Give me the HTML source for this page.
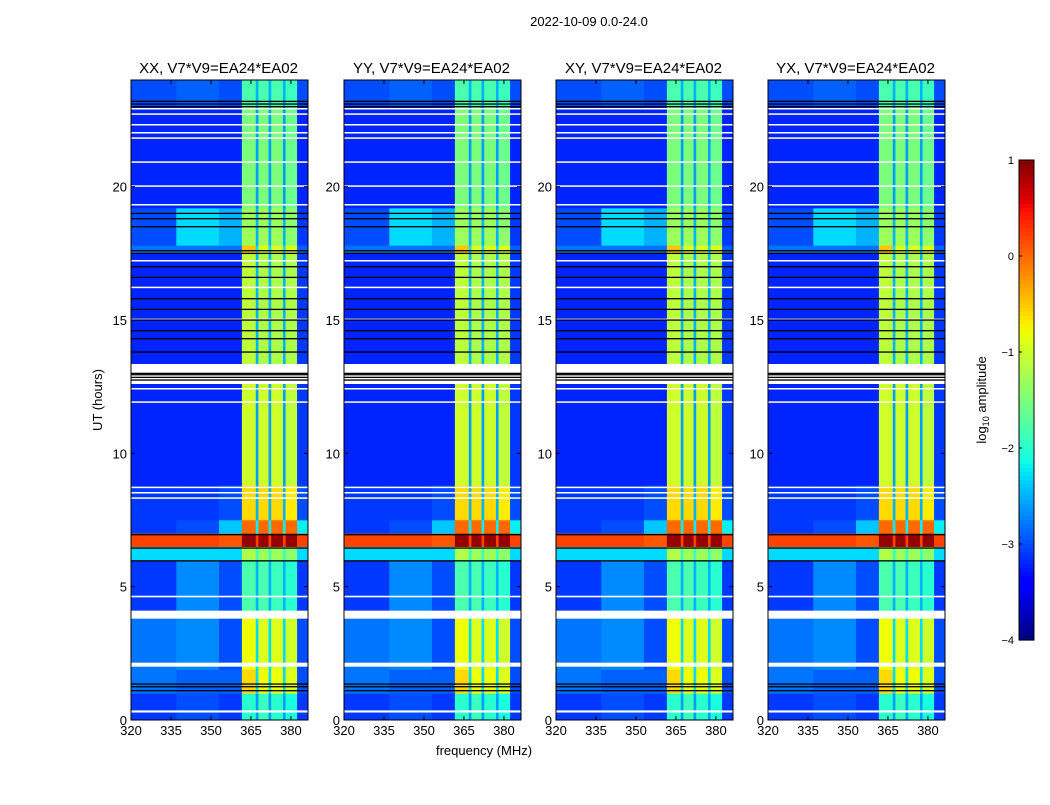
<!DOCTYPE html>
<html><head><meta charset="utf-8"><style>
body{margin:0;background:#fff;width:1050px;height:800px;overflow:hidden}
svg{font-family:"Liberation Sans",sans-serif}
</style></head><body>
<svg id="fig" width="1050" height="800" xmlns="http://www.w3.org/2000/svg">
<text x="589" y="26" font-size="13" text-anchor="middle">2022-10-09 0.0-24.0</text>
<text x="0" y="0" font-size="13" text-anchor="middle" transform="translate(102,400) rotate(-90)">UT (hours)</text>
<text x="484" y="755" font-size="13" text-anchor="middle">frequency (MHz)</text>
<text x="0" y="0" font-size="13" text-anchor="middle" transform="translate(986,400) rotate(-90)">log<tspan font-size="9" dy="3">10</tspan><tspan dy="-3"> amplitude</tspan></text>
<g id="panels"></g>
<g id="cbar"></g>
</svg>
<script>
const panelTitles=["XX, V7*V9=EA24*EA02","YY, V7*V9=EA24*EA02","XY, V7*V9=EA24*EA02","YX, V7*V9=EA24*EA02"];
const freqEdges=[320,337,353,361.6,366.8,367.8,371.6,372.6,377,378,382.3,386.4];
const rowStart=[0,1.0,1.9,4.1,6.0,6.5,7.0,7.5,8.8,13.3,17.5,17.8,19.2,23.0];
const rowEnd=[1.0,1.9,3.8,6.0,6.5,7.0,7.5,8.8,12.6,17.5,17.8,19.2,23.0,24.0];
const rowValues=[
[-3.1,-3.0,-3.1,-2.0,-2.6,-1.9,-2.6,-2.0,-2.6,-2.1,-3.1],
[-2.8,-2.9,-2.9,-0.6,-2.3,-0.8,-2.3,-0.8,-2.3,-0.9,-3.0],
[-2.8,-2.7,-3.0,-0.8,-2.3,-0.9,-2.3,-0.9,-2.3,-1.0,-3.0],
[-3.1,-2.7,-3.0,-1.8,-2.5,-1.8,-2.5,-1.9,-2.5,-2.0,-3.1],
[-2.3,-2.3,-2.3,-1.2,-1.9,-1.3,-1.9,-1.3,-1.9,-1.4,-2.3],
[0.2,0.2,0.1,0.9,0.2,0.9,0.2,0.9,0.2,0.9,0.2],
[-3.1,-3.0,-2.4,0.0,-2.2,0.0,-2.2,0.0,-2.2,0.0,-2.2],
[-3.1,-3.1,-3.0,-0.6,-2.5,-0.6,-2.5,-0.6,-2.5,-0.7,-3.0],
[-3.2,-3.2,-3.2,-1.0,-2.6,-1.0,-2.6,-1.0,-2.6,-1.1,-3.1],
[-3.2,-3.2,-3.2,-1.1,-2.5,-1.2,-2.5,-1.2,-2.5,-1.2,-3.1],
[-2.8,-2.8,-2.8,-0.5,-2.3,-0.9,-2.3,-0.9,-2.3,-0.9,-2.9],
[-3.0,-2.3,-2.5,-1.3,-2.5,-1.3,-2.5,-1.3,-2.5,-1.4,-3.1],
[-3.2,-3.2,-3.2,-1.5,-2.6,-1.5,-2.6,-1.5,-2.6,-1.6,-3.2],
[-3.0,-2.9,-3.0,-1.8,-2.5,-1.8,-2.5,-1.8,-2.5,-1.9,-3.0]];
const whiteStart=[0.28,2.0,3.88,4.6,8.3,8.5,8.7,11.9,12.4,12.6,13.1,15.0,16.2,17.2,19.3,20.0,20.9,21.8,22.0,22.3,22.7,22.9];
const whiteEnd=[0.36,2.15,4.1,4.66,8.35,8.55,8.75,11.95,12.45,12.7,13.35,15.05,16.25,17.25,19.35,20.05,20.95,21.85,22.05,22.35,22.75,22.95];
const blackLines=[1.1,1.25,1.35,5.97,6.45,6.95,12.75,12.85,12.95,13.0,13.8,14.3,14.6,15.0,15.4,15.8,16.6,17.0,17.5,17.6,18.5,18.8,19.0,23.0,23.1,23.2];
const xTicks=[320,335,350,365,380];
const yTicks=[0,5,10,15,20];
const cbTicks=[1,0,-1,-2,-3,-4];
const cbLabels=["1","0","\u22121","\u22122","\u22123","\u22124"];

const NS="http://www.w3.org/2000/svg";
const panelLefts=[131,344,556,768], PW=177, PT=80, PB=720;
const fmin=320,fmax=386.4,tmin=0,tmax=24;
function interp(pts,t){for(let i=1;i<pts.length;i++){if(t<=pts[i][0]){const a=pts[i-1],b=pts[i];return a[1]+(b[1]-a[1])*(t-a[0])/(b[0]-a[0]);}}return pts[pts.length-1][1];}
const RP=[[0,0],[0.35,0],[0.66,1],[0.89,1],[1,0.5]];
const GP=[[0,0],[0.125,0],[0.375,1],[0.64,1],[0.91,0],[1,0]];
const BP=[[0,0.5],[0.11,1],[0.34,1],[0.65,0],[1,0]];
function jet(v){let t=(v+4)/5;t=Math.max(0,Math.min(1,t));
 const c=x=>Math.round(255*x);
 return `rgb(${c(interp(RP,t))},${c(interp(GP,t))},${c(interp(BP,t))})`;}
function mk(tag,attrs,parent){const e=document.createElementNS(NS,tag);for(const k in attrs)e.setAttribute(k,attrs[k]);parent.appendChild(e);return e;}
const yS=h=>PB-(h-tmin)/(tmax-tmin)*(PB-PT);
const panels=document.getElementById('panels');
panelLefts.forEach((L,p)=>{
 const xS=f=>L+(f-fmin)/(fmax-fmin)*PW;
 const g=mk('g',{},panels);
 
 
 rowStart.forEach((s,r)=>{
  for(let c=0;c<freqEdges.length-1;c++){
   const x0=xS(freqEdges[c]),x1=xS(freqEdges[c+1]),y0=yS(rowEnd[r]),y1=yS(s);
   const el=mk('rect',{x:x0,y:y0,width:x1-x0+0.3,height:y1-y0+0.3,fill:jet(rowValues[r][c])},g);
   
   
  }
 });
 whiteStart.forEach((s,i)=>{
  const el=mk('rect',{x:L,y:yS(whiteEnd[i]),width:PW,height:Math.max(1.5,yS(s)-yS(whiteEnd[i])),fill:'#fff'},g);
  
  
 });
 blackLines.forEach(h=>{
  const el=mk('rect',{x:L,y:yS(h)-0.6,width:PW,height:1.3,fill:'#000'},g);
  
  
 });
 const fr=mk('rect',{x:L,y:PT,width:PW,height:PB-PT,fill:'none',stroke:'#000','stroke-width':1},g);
 
 
 const tt=mk('text',{x:L+PW/2-1,y:PT-7,'font-size':15,'text-anchor':'middle'},g);tt.textContent=panelTitles[p];
 
 
 xTicks.forEach(f=>{const x=xS(f);
  mk('line',{x1:x,x2:x,y1:PB,y2:PB-4,stroke:'#000'},g);mk('line',{x1:x,x2:x,y1:PT,y2:PT+4,stroke:'#000'},g);
  const t=mk('text',{x:x,y:PB+15,'font-size':13,'text-anchor':'middle'},g);t.textContent=f;
  
  });
 yTicks.forEach(h=>{const y=yS(h);
  mk('line',{x1:L,x2:L+4,y1:y,y2:y,stroke:'#000'},g);mk('line',{x1:L+PW,x2:L+PW-4,y1:y,y2:y,stroke:'#000'},g);
  const t=mk('text',{x:L-4,y:y+5,'font-size':13,'text-anchor':'end'},g);t.textContent=h;
  
  });
});
const cb=document.getElementById('cbar');
const CT=160,CBt=640,CX=1019,CW=15;
for(let i=0;i<120;i++){const v=1-5*(i+0.5)/120;
 const el=mk('rect',{x:CX,y:CT+i*(CBt-CT)/120,width:CW,height:(CBt-CT)/120+0.6,fill:jet(v)},cb);
 
 }
const cf=mk('rect',{x:CX,y:CT,width:CW,height:CBt-CT,fill:'none',stroke:'#000'},cb);


cbTicks.forEach((v,i)=>{const y=CT+(1-v)/5*(CBt-CT);
 mk('line',{x1:CX,x2:CX+3,y1:y,y2:y,stroke:'#000'},cb);
 const t=mk('text',{x:CX-5,y:y+4,'font-size':11,'text-anchor':'end'},cb);t.textContent=cbLabels[i];
 
 });
</script>
</body></html>
